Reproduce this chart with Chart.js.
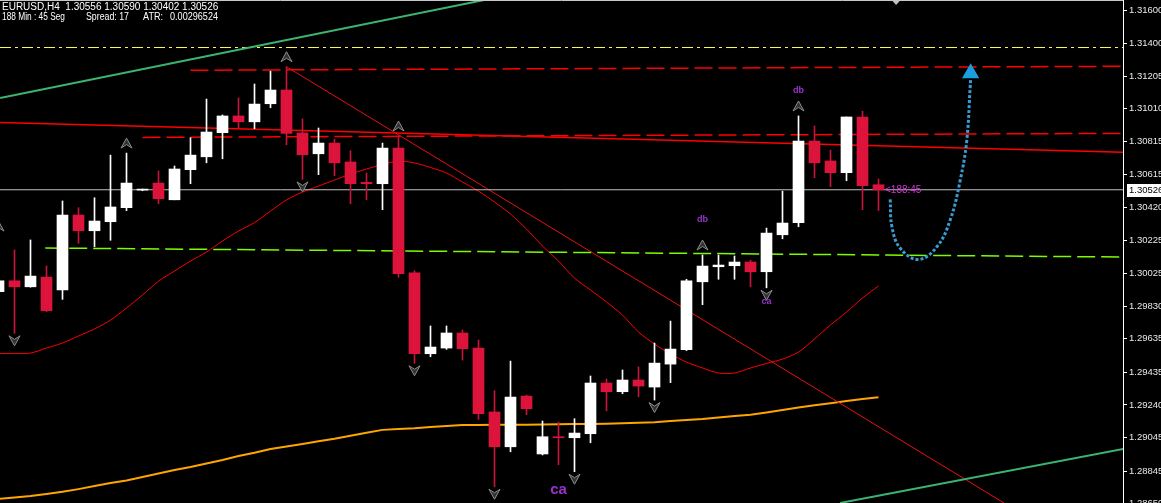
<!DOCTYPE html>
<html lang="en">
<head>
<meta charset="UTF-8">
<title>EURUSD,H4</title>
<style>
  html, body { margin: 0; padding: 0; background: #000; overflow: hidden; }
  #wrap { width: 1161px; height: 503px; }
</style>
</head>
<body>
<div id="wrap"><canvas id="priceChart" width="1161" height="503"></canvas></div>
<script src="https://cdn.jsdelivr.net/npm/chart.js"></script>
<script>
// bar index of the first (partly hidden) candle
const firstBar = -1;

const opens = [1.29917, 1.29982, 1.29946, 1.30004, 1.29927, 1.30375, 1.30281, 1.30335, 1.30419, 1.30524,
  1.30566, 1.30466, 1.30646, 1.30723, 1.30867, 1.30967, 1.30932, 1.31040, 1.31122, 1.30865,
  1.30741, 1.30805, 1.30692, 1.30570, 1.30562, 1.30775, 1.30030, 1.29546, 1.29580, 1.29670,
  1.29580, 1.29198, 1.28990, 1.29293, 1.28947, 1.29050, 1.29044, 1.29068, 1.29371, 1.29319,
  1.29389, 1.29347, 1.29484, 1.29570, 1.29976, 1.30066, 1.30072, 1.30094, 1.30036, 1.30257,
  1.30329, 1.30817, 1.30698, 1.30628, 1.30961, 1.30556];
const highs = [1.30249, 1.30166, 1.30226, 1.30070, 1.30459, 1.30419, 1.30478, 1.30733, 1.30745, 1.30530,
  1.30638, 1.30668, 1.30837, 1.31068, 1.30973, 1.31074, 1.31158, 1.31235, 1.31261, 1.30949,
  1.30895, 1.30829, 1.30759, 1.30626, 1.30805, 1.30847, 1.30042, 1.29712, 1.29712, 1.29688,
  1.29628, 1.29325, 1.29502, 1.29299, 1.29144, 1.29138, 1.29158, 1.29413, 1.29395, 1.29449,
  1.29467, 1.29610, 1.29741, 1.29991, 1.30136, 1.30136, 1.30130, 1.30106, 1.30297, 1.30518,
  1.30967, 1.30907, 1.30763, 1.30961, 1.30996, 1.30590];
const lows = [1.29891, 1.29668, 1.29944, 1.29797, 1.29871, 1.30206, 1.30185, 1.30224, 1.30401, 1.30520,
  1.30442, 1.30466, 1.30562, 1.30687, 1.30711, 1.30897, 1.30891, 1.31016, 1.30795, 1.30588,
  1.30616, 1.30610, 1.30442, 1.30466, 1.30407, 1.30003, 1.29489, 1.29528, 1.29572, 1.29508,
  1.29154, 1.28751, 1.28960, 1.29182, 1.28941, 1.28883, 1.28841, 1.29014, 1.29205, 1.29307,
  1.29289, 1.29269, 1.29373, 1.29565, 1.29839, 1.29991, 1.29991, 1.29946, 1.29940, 1.30233,
  1.30305, 1.30598, 1.30544, 1.30580, 1.30407, 1.30402];
const closes = [1.29982, 1.29946, 1.30010, 1.29803, 1.30375, 1.30281, 1.30339, 1.30423, 1.30566, 1.30526,
  1.30472, 1.30650, 1.30733, 1.30871, 1.30967, 1.30932, 1.31038, 1.31122, 1.30863, 1.30735,
  1.30805, 1.30687, 1.30562, 1.30562, 1.30775, 1.30024, 1.29547, 1.29586, 1.29670, 1.29576,
  1.29188, 1.28990, 1.29287, 1.29217, 1.29050, 1.29044, 1.29072, 1.29371, 1.29319, 1.29389,
  1.29353, 1.29490, 1.29574, 1.29982, 1.30070, 1.30076, 1.30094, 1.30036, 1.30267, 1.30327,
  1.30817, 1.30687, 1.30628, 1.30961, 1.30550, 1.30526];

const redMA = [1.29547, 1.29548, 1.29550, 1.29580, 1.29610, 1.29652, 1.29694, 1.29747, 1.29819, 1.29897,
  1.29980, 1.30040, 1.30100, 1.30154, 1.30220, 1.30279, 1.30330, 1.30399, 1.30465, 1.30512,
  1.30548, 1.30584, 1.30620, 1.30650, 1.30677, 1.30698, 1.30686, 1.30659, 1.30626, 1.30572,
  1.30518, 1.30453, 1.30381, 1.30291, 1.30190, 1.30100, 1.29998, 1.29927, 1.29855, 1.29777,
  1.29676, 1.29604, 1.29544, 1.29496, 1.29461, 1.29431, 1.29431, 1.29461, 1.29488, 1.29514,
  1.29556, 1.29634, 1.29718, 1.29795, 1.29879, 1.29951];
const orangeMA = [1.28678, 1.28687, 1.28696, 1.28708, 1.28721, 1.28737, 1.28755, 1.28773, 1.28789, 1.28809,
  1.28830, 1.28851, 1.28869, 1.28890, 1.28911, 1.28935, 1.28954, 1.28977, 1.28991, 1.29006,
  1.29023, 1.29038, 1.29056, 1.29074, 1.29091, 1.29096, 1.29100, 1.29108, 1.29114, 1.29120,
  1.29120, 1.29121, 1.29122, 1.29122, 1.29123, 1.29124, 1.29126, 1.29126, 1.29128, 1.29130,
  1.29134, 1.29136, 1.29144, 1.29150, 1.29156, 1.29165, 1.29174, 1.29182, 1.29195, 1.29210,
  1.29225, 1.29238, 1.29250, 1.29263, 1.29275, 1.29286];

// fractal arrows (bar numbers)
const upFractals = [-1, 7, 17, 24, 43, 49];
const downFractals = [0, 18, 25, 30, 35, 40, 47];

// pattern labels
const patternBars = [43, 49, 47, 34];
const patternPrices = [1.30351, 1.31122, 1.29861, 1.28732];
const patternTexts = ['db', 'db', 'ca', 'ca'];

// drawn objects: [bar, price] pairs
const channelUpper = [[-0.9, 1.31074], [29.35, 1.31660]];
const channelLower = [[51.6, 1.28654], [69.3, 1.28977]];
const trendLine = [[17, 1.31261], [61.85, 1.28654]];
const resistTop = [[11, 1.31240], [69.3, 1.31264]];
const resistMid = [[8, 1.30839], [69.3, 1.30863]];
const slowLine = [[-0.9, 1.30928], [69.3, 1.30750]];
const supportLine = [[1.92, 1.30178], [69.3, 1.30124]];
const yellowLevel = 1.31376;
const projection = [[54.73, 1.30469], [54.84, 1.30305], [55.36, 1.30176], [56.5, 1.30110], [57.65, 1.30185],
  [58.48, 1.30345], [59.11, 1.30584], [59.52, 1.30823], [59.73, 1.31142], [59.76, 1.31185]];
const projectionHead = [[59.76, 1.31222]];
const shiftBar = 55.1;

const tickValues = [1.31600, 1.31400, 1.31205, 1.31010, 1.30815, 1.30615, 1.30420, 1.30225, 1.30025,
  1.29830, 1.29635, 1.29435, 1.29240, 1.29045, 1.28845, 1.28650];

const headerLine1 = 'EURUSD,H4  1.30556 1.30590 1.30402 1.30526';
const headerLine2 = ['188 Min : 45 Seg', 'Spread: 17', 'ATR:', '0.00296524'];
const timerText = '<188:45';

const xMin = -0.90625, xMax = 69.28125;
const yMin = 1.28654, yMax = 1.31660;

const lastPrice = closes[closes.length - 1];
const bars = opens.map((_, i) => firstBar + i);
const isBull = opens.map((o, i) => closes[i] >= o);
const pts = arr => arr.map(p => ({ x: p[0], y: p[1] }));

const bodyData = bars.map((b, i) => ({ x: b, y: [opens[i], closes[i]] }));
const wickData = bars.map((b, i) => ({ x: b, y: [lows[i], highs[i]] }));
const bodyColors = isBull.map(u => u ? '#ffffff' : '#dc143c');
const wickColors = isBull.map(u => u ? '#ffffff' : '#c8143a');

function lineSet(data, color, width, dash, extra) {
    return Object.assign({
        type: 'line', data: data, borderColor: color, borderWidth: width,
        borderDash: dash || [], pointRadius: 0, tension: 0, fill: false, order: 10, clip: 0
    }, extra || {});
}

function drawFractal(ctx, x, y, up) {
    const s = up ? 1 : -1;
    ctx.beginPath();
    ctx.moveTo(x, y - 5 * s);
    ctx.lineTo(x + 5.5, y + 5 * s);
    ctx.lineTo(x, y + 1.5 * s);
    ctx.lineTo(x - 5.5, y + 5 * s);
    ctx.closePath();
    ctx.fillStyle = '#333333';
    ctx.fill();
    ctx.strokeStyle = '#8c8c8c';
    ctx.lineWidth = 1;
    ctx.stroke();
}

const overlay = {
    id: 'overlay',
    afterDatasetsDraw(chart) {
        const ctx = chart.ctx, xs = chart.scales.x, ys = chart.scales.y, area = chart.chartArea;
        ctx.save();
        ctx.beginPath();
        ctx.rect(area.left, area.top, area.right - area.left, area.bottom - area.top);
        ctx.clip();

        upFractals.forEach(b => {
            const i = b - firstBar;
            drawFractal(ctx, xs.getPixelForValue(b), ys.getPixelForValue(highs[i]) - 10, true);
        });
        downFractals.forEach(b => {
            const i = b - firstBar;
            drawFractal(ctx, xs.getPixelForValue(b), ys.getPixelForValue(lows[i]) + 7.5, false);
        });

        ctx.textAlign = 'center';
        ctx.textBaseline = 'middle';
        ctx.fillStyle = '#9932cc';
        patternBars.forEach((b, i) => {
            const big = i === 3;
            ctx.font = (big ? 'bold 15px' : 'bold 9px') + ' "Liberation Sans", Arial, sans-serif';
            ctx.fillText(patternTexts[i], xs.getPixelForValue(b), ys.getPixelForValue(patternPrices[i]));
        });

        // bar timer next to the last candle
        const lastBar = bars[bars.length - 1];
        ctx.textAlign = 'left';
        ctx.font = '10px "Liberation Sans", Arial, sans-serif';
        ctx.fillStyle = '#d633d6';
        ctx.fillText(timerText, xs.getPixelForValue(lastBar) + 6.5, ys.getPixelForValue(lastPrice));

        // chart shift marker
        const sx = xs.getPixelForValue(shiftBar);
        ctx.fillStyle = '#c0c0c0';
        ctx.beginPath();
        ctx.moveTo(sx - 4.5, area.top);
        ctx.lineTo(sx + 4.5, area.top);
        ctx.lineTo(sx, area.top + 5);
        ctx.closePath();
        ctx.fill();

        ctx.strokeStyle = '#c8c8c8';
        ctx.lineWidth = 1;
        ctx.beginPath();
        ctx.moveTo(area.left, area.top + 0.5);
        ctx.lineTo(area.right, area.top + 0.5);
        ctx.stroke();
        ctx.restore();
    },
    afterDraw(chart) {
        const ctx = chart.ctx, ys = chart.scales.y, area = chart.chartArea;
        ctx.save();
        ctx.font = '10px "Liberation Sans", Arial, sans-serif';
        ctx.textBaseline = 'middle';
        ctx.textAlign = 'left';
        ctx.fillStyle = '#ffffff';
        ctx.fillText(headerLine1, 2, 7);
        // second header line, squeezed to the widths of the terminal font
        const segX = [2, 86, 143, 170], segW = [63, 43, 20, 48];
        headerLine2.forEach((t, i) => ctx.fillText(t, segX[i], 17.5, segW[i]));

        // current price box on the axis
        const py = Math.round(ys.getPixelForValue(lastPrice));
        ctx.fillStyle = '#ffffff';
        ctx.fillRect(area.right + 4, py - 6, 40, 13);
        ctx.fillStyle = '#000000';
        ctx.font = '9.5px "Liberation Sans", Arial, sans-serif';
        ctx.fillText(lastPrice.toFixed(5), area.right + 6, py + 0.5);
        ctx.restore();
    }
};

const ctx = document.getElementById('priceChart').getContext('2d');
new Chart(ctx, {
    type: 'bar',
    data: {
        datasets: [
            { type: 'bar', data: bodyData, backgroundColor: bodyColors, barThickness: 11, minBarLength: 1, grouped: false, order: 1 },
            { type: 'bar', data: wickData, backgroundColor: wickColors, barThickness: 1, grouped: false, order: 2 },
            lineSet(pts(channelUpper), '#3cb371', 2),
            lineSet(pts(channelLower), '#3cb371', 2),
            lineSet(pts([[xMin, yellowLevel], [xMax, yellowLevel]]), '#ffff40', 1, [11, 4, 3, 4]),
            lineSet(pts(resistTop), '#ff0000', 1.5, [18, 6]),
            lineSet(pts(resistMid), '#ff0000', 1.5, [18, 6]),
            lineSet(pts(slowLine), '#ff0000', 1.5),
            lineSet(pts(supportLine), '#7cfc00', 1.5, [18, 6]),
            lineSet(pts([[xMin, lastPrice], [xMax, lastPrice]]), '#c0c0c0', 1),
            lineSet(pts(trendLine), '#e81010', 1),
            lineSet(redMA.map((v, i) => ({ x: firstBar + i, y: v })), '#ff0000', 1, null, { tension: 0.3 }),
            lineSet(orangeMA.map((v, i) => ({ x: firstBar + i, y: v })), '#ffa500', 2),
            lineSet(pts(projection), '#3a9bd0', 3, [3, 2], { tension: 0.4, order: 0 }),
            { type: 'scatter', data: pts(projectionHead), pointStyle: 'triangle', pointRadius: 10,
              backgroundColor: '#1a9ee0', borderWidth: 0, order: 0, clip: 0 }
        ]
    },
    options: {
        responsive: false,
        devicePixelRatio: 1,
        animation: false,
        events: [],
        layout: { padding: 0, autoPadding: false },
        plugins: { legend: { display: false }, tooltip: { enabled: false } },
        scales: {
            x: { type: 'linear', min: xMin, max: xMax, offset: false, display: false },
            y: {
                position: 'right', min: yMin, max: yMax,
                afterBuildTicks: s => { s.ticks = tickValues.map(v => ({ value: v })); },
                afterFit: s => { s.width = 38; s.paddingTop = 0; s.paddingBottom = 0; },
                grid: { drawOnChartArea: false, color: '#ffffff', tickLength: 4 },
                border: { color: '#ffffff', width: 1 },
                ticks: {
                    autoSkip: false, padding: 2, color: '#e8e8e8',
                    font: { family: '"Liberation Sans", Arial, sans-serif', size: 9.5 },
                    callback: v => v.toFixed(5)
                }
            }
        }
    },
    plugins: [overlay]
});
</script>
</body>
</html>
